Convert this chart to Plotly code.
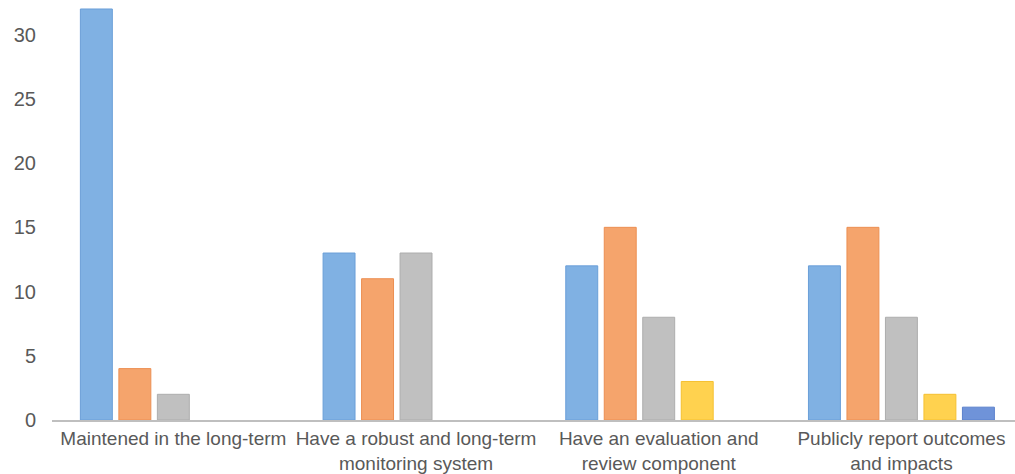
import plotly.graph_objects as go

categories = ["Maintened in the long-term",
              "Have a robust and long-term<br>monitoring system",
              "Have an evaluation and<br>review component",
              "Publicly report outcomes<br>and impacts"]
series1 = [32, 13, 12, 12]
series2 = [4, 11, 15, 15]
series3 = [2, 13, 8, 8]
series4 = [None, None, 3, 2]
series5 = [None, None, None, 1]

colors = ["#80b1e3", "#f5a46c", "#c0c0c0", "#ffd24f", "#6f93d9"]
borders = ["#6a9fd8", "#ec8f52", "#adadad", "#f5c030", "#5a80cc"]

fig = go.Figure()
for i, s in enumerate([series1, series2, series3, series4, series5]):
    fig.add_trace(go.Bar(x=categories, y=s, marker=dict(color=colors[i], line=dict(color=borders[i], width=1)),
                         showlegend=False))

fig.update_layout(
    width=1015, height=474,
    margin=dict(l=52, r=0, t=0, b=54),
    plot_bgcolor="white", paper_bgcolor="white",
    barmode="group", bargap=0.207, bargroupgap=0.17,
    font=dict(family="Liberation Sans, Arial, sans-serif", size=19, color="#595959"),
)
fig.update_xaxes(showline=True, linecolor="#bfbfbf", linewidth=2, showgrid=False, ticks="",
                 range=[-0.5, 3.468], ticklabelstandoff=0,
                 automargin=False, tickfont=dict(size=19, color="#595959"))
fig.update_yaxes(range=[0, 32.7], showgrid=False, zeroline=False, showline=False,
                 automargin=False, tickvals=[0, 5, 10, 15, 20, 25, 30], ticks="", ticklabelstandoff=15,
                 tickfont=dict(size=20, color="#595959"))
fig.write_html("out.html", config={"displayModeBar": False},
               post_script="document.body.style.margin='0px';")
